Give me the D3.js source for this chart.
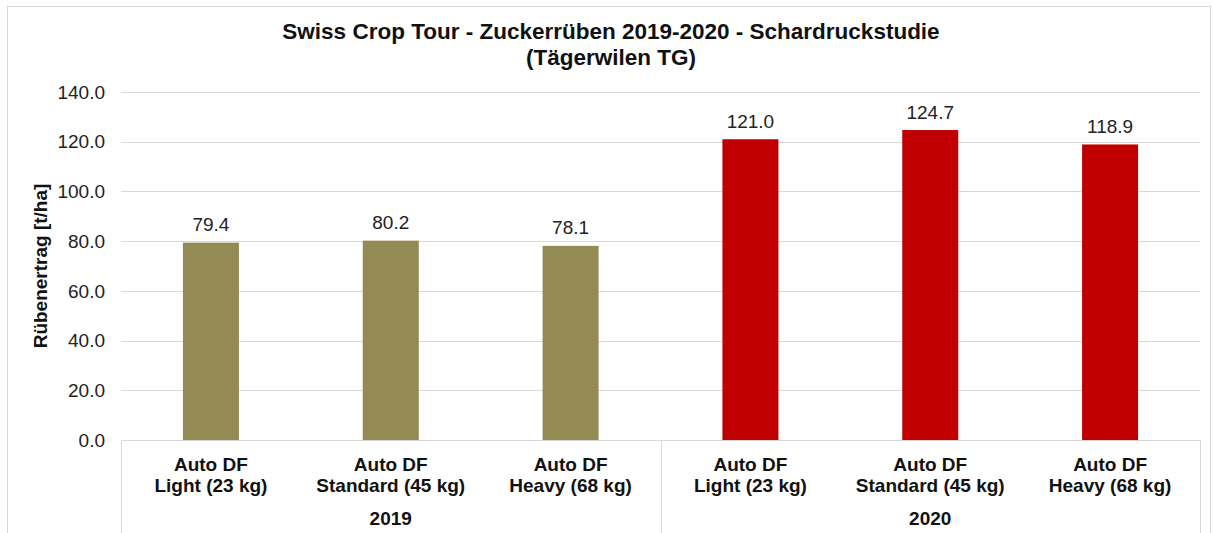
<!DOCTYPE html>
<html>
<head>
<meta charset="utf-8">
<script src="https://cdn.jsdelivr.net/npm/d3@7"></script>
<style>
  body { margin: 0; background: #fff; }
  svg { font-family: "Liberation Sans", Arial, sans-serif; }
</style>
</head>
<body>
<div id="chart"></div>
<script>
const years = ['2019', '2019', '2019', '2020', '2020', '2020'];
const labelLine1 = ['Auto DF', 'Auto DF', 'Auto DF', 'Auto DF', 'Auto DF', 'Auto DF'];
const labelLine2 = ['Light (23 kg)', 'Standard (45 kg)', 'Heavy (68 kg)', 'Light (23 kg)', 'Standard (45 kg)', 'Heavy (68 kg)'];
const values = [79.4, 80.2, 78.1, 121.0, 124.7, 118.9];
const yTicks = [0, 20, 40, 60, 80, 100, 120, 140];
const yearGroups = ['2019', '2020'];

const width = 1213, height = 533;
const margin = {top: 92, left: 121, right: 13, bottom: 93};
const fs = 19;

const svg = d3.select('#chart').append('svg')
  .attr('width', width)
  .attr('height', height);

// chart frame
svg.append('rect')
  .attr('x', 7.5).attr('y', 6.5)
  .attr('width', width - 10).attr('height', height)
  .attr('fill', 'none').attr('stroke', '#d9d9d9');

const x = d3.scaleBand()
  .domain(d3.range(values.length))
  .range([margin.left, width - margin.right])
  .paddingInner(0).paddingOuter(0);

const y = d3.scaleLinear()
  .domain([0, 140])
  .range([height - margin.bottom, margin.top]);

// grid
svg.append('g').selectAll('line')
  .data(yTicks)
  .enter().append('line')
  .attr('x1', margin.left).attr('x2', width - margin.right)
  .attr('y1', d => Math.round(y(d)) + 0.5).attr('y2', d => Math.round(y(d)) + 0.5)
  .attr('stroke', '#d9d9d9');

// y tick labels
svg.append('g').selectAll('text')
  .data(yTicks)
  .enter().append('text')
  .attr('x', 105)
  .attr('y', d => y(d))
  .attr('dy', '0.35em')
  .attr('text-anchor', 'end')
  .attr('font-size', fs)
  .attr('fill', '#222')
  .text(d3.format('.1f'));

// bars
const barW = 56;
svg.append('g').selectAll('rect')
  .data(values)
  .enter().append('rect')
  .attr('x', (d, i) => x(i) + x.bandwidth() / 2 - barW / 2)
  .attr('y', d => y(d))
  .attr('width', barW)
  .attr('height', d => y(0) - y(d))
  .attr('fill', (d, i) => years[i] === '2019' ? '#948a54' : '#c00000');

// value labels
svg.append('g').selectAll('text')
  .data(values)
  .enter().append('text')
  .attr('x', (d, i) => x(i) + x.bandwidth() / 2)
  .attr('y', d => y(d) - 11.5)
  .attr('text-anchor', 'middle')
  .attr('font-size', fs)
  .attr('fill', '#222')
  .text(d3.format('.1f'));

// category axis
const axisY = y(0);
svg.append('line')
  .attr('x1', margin.left).attr('x2', width - margin.right)
  .attr('y1', Math.round(axisY) + 0.5).attr('y2', Math.round(axisY) + 0.5)
  .attr('stroke', '#d9d9d9');

const seps = [0, 3, 6].map(i => i < values.length ? x(i) : x(values.length - 1) + x.bandwidth());
svg.append('g').selectAll('line')
  .data(seps)
  .enter().append('line')
  .attr('x1', d => Math.round(d) + 0.5).attr('x2', d => Math.round(d) + 0.5)
  .attr('y1', axisY).attr('y2', height)
  .attr('stroke', '#d9d9d9');

const cat = svg.append('g').selectAll('text')
  .data(values)
  .enter().append('text')
  .attr('text-anchor', 'middle')
  .attr('font-size', fs)
  .attr('font-weight', 'bold')
  .attr('fill', '#111');
cat.append('tspan')
  .attr('x', (d, i) => x(i) + x.bandwidth() / 2)
  .attr('y', 471)
  .text((d, i) => labelLine1[i]);
cat.append('tspan')
  .attr('x', (d, i) => x(i) + x.bandwidth() / 2)
  .attr('y', 492)
  .text((d, i) => labelLine2[i]);

// year group labels
svg.append('g').selectAll('text')
  .data(yearGroups)
  .enter().append('text')
  .attr('x', (d, gi) => (x(gi * 3) + x(gi * 3 + 2) + x.bandwidth()) / 2)
  .attr('y', 525)
  .attr('text-anchor', 'middle')
  .attr('font-size', fs)
  .attr('font-weight', 'bold')
  .attr('fill', '#111')
  .text(d => d);

// title
const title = svg.append('text')
  .attr('text-anchor', 'middle')
  .attr('font-size', 22.5)
  .attr('font-weight', 'bold')
  .attr('fill', '#111');
title.append('tspan').attr('x', 611).attr('y', 39)
  .text('Swiss Crop Tour - Zuckerrüben 2019-2020 - Schardruckstudie');
title.append('tspan').attr('x', 611).attr('y', 65)
  .text('(Tägerwilen TG)');

// y axis title
svg.append('text')
  .attr('transform', `translate(47, ${(y(0) + y(140)) / 2}) rotate(-90)`)
  .attr('text-anchor', 'middle')
  .attr('font-size', fs)
  .attr('font-weight', 'bold')
  .attr('fill', '#111')
  .text('Rübenertrag [t/ha]');
</script>
</body>
</html>
